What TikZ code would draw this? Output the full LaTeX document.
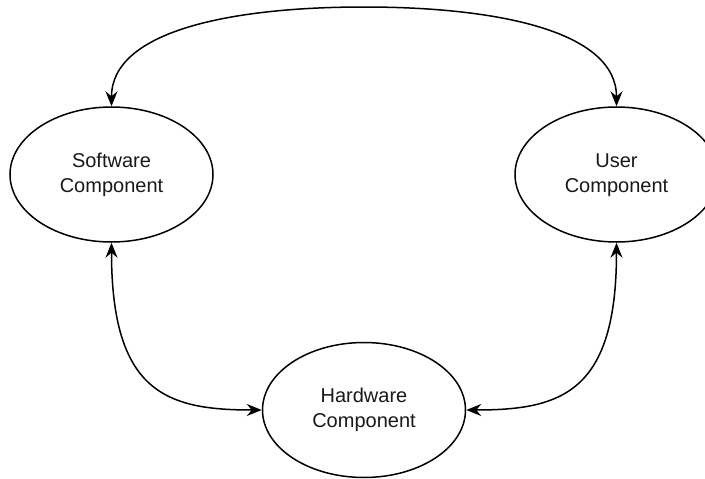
\documentclass[tikz,border=0pt]{standalone}
\usepackage{fontspec}
\setmainfont{Liberation Sans}
\usetikzlibrary{shapes.geometric,arrows.meta,calc}
\tikzset{
  comp/.style={ellipse, draw=black, line width=1.5pt, fill=white,
    minimum width=203pt, minimum height=135pt, inner sep=0pt,
    align=center, font=\fontsize{20}{25}\selectfont, text=black!90},
  headtip/.style={Stealth[length=15pt,width=12pt,inset=5pt,fill=black]},
  link/.style={line width=1.5pt, draw=black, {<[headtip]}-{>[headtip]}}
}
\begin{document}
\begin{tikzpicture}[x=1pt,y=1pt]
  \useasboundingbox[fill=white] (0,0) rectangle (705,-479);
  \node[comp] (sw) at (111.5,-174.5) {\raisebox{-2pt}{\begin{tabular}{@{}c@{}}Software\\Component\end{tabular}}};
  \node[comp] (us) at (616.5,-174.5) {\raisebox{-2pt}{\begin{tabular}{@{}c@{}}User\\Component\end{tabular}}};
  \node[comp] (hw) at (364,-410) {\raisebox{-2pt}{\begin{tabular}{@{}c@{}}Hardware\\Component\end{tabular}}};
  % top link, arched over the picture
  \draw[line width=1.5pt, {Stealth[length=15pt,width=12pt,inset=5pt]}-{Stealth[length=15pt,width=12pt,inset=5pt]}]
    (sw.north) .. controls ++(0,75) and (230,-7) .. (364,-7)
               .. controls (498,-7) and ($(us.north)+(0,75)$) .. (us.north);
  % links down to the hardware component
  \draw[line width=1.5pt, {Stealth[length=15pt,width=12pt,inset=5pt]}-{Stealth[length=15pt,width=12pt,inset=5pt]}]
    (sw.south) .. controls ++(0,-150) and ++(-95,0) .. (hw.west);
  \draw[line width=1.5pt, {Stealth[length=15pt,width=12pt,inset=5pt]}-{Stealth[length=15pt,width=12pt,inset=5pt]}]
    (us.south) .. controls ++(0,-150) and ++(95,0) .. (hw.east);
\end{tikzpicture}
\end{document}
